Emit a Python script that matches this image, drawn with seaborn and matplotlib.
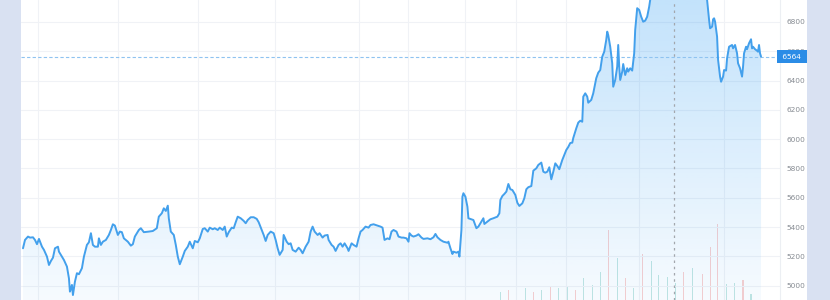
import numpy as np
import pandas as pd
import matplotlib
matplotlib.use("Agg")
import matplotlib.pyplot as plt
from matplotlib.patches import Rectangle
import seaborn as sns

# ---------------- data ----------------
day = [2, 4, 7, 9, 12, 14, 16, 18, 21, 23, 26, 28, 30, 32, 34, 37, 38, 41, 43, 46, 48, 49, 51, 52, 54, 56, 58, 61, 63,
       66, 68, 70, 72, 74, 77, 78, 80, 82, 85, 88, 90, 92, 94, 97, 99, 101, 103, 107, 110, 112, 114, 118, 120, 123, 128, 132,
       136, 138, 141, 143, 145, 147, 148, 150, 153, 155, 157, 159, 162, 164, 167, 169, 172, 174, 177, 179, 182, 184, 187,
       189, 192, 194, 197, 199, 202, 204, 206, 208, 211, 213, 215, 217, 220, 223, 225, 227, 230, 233, 236, 238, 241, 243,
       245, 247, 250, 253, 255, 257, 259, 262, 263, 266, 268,
       270, 272, 275, 278, 280, 282, 285, 288, 290, 292, 294, 297, 299, 302, 304, 307, 308, 311, 313, 315, 318, 320, 322,
       324, 327, 328, 331, 333, 336, 338, 340, 342, 345, 348, 350, 353, 357, 360, 362, 364, 367, 369, 371, 373, 376, 378,
       381, 383, 386, 388, 389, 391, 393, 396, 398, 401, 403,
       407, 410, 413, 415, 417, 420, 423, 427, 428, 430, 432, 433, 436, 438, 439, 441, 442, 443, 445, 447, 448, 451, 453,
       456, 458, 461, 463, 464, 467, 470, 473, 477, 479, 480, 482, 484, 486, 488, 490, 492, 493, 495, 497, 499, 502, 504,
       506, 508, 511, 513, 516, 518, 521, 523, 525, 527, 529, 531, 533, 535, 537, 539, 542, 544, 546, 548, 550, 552, 553,
       556, 558, 560, 562, 563, 565, 567, 568, 571, 573, 576, 578, 580, 582, 584, 586, 587, 588, 590, 592, 593, 595, 597,
       598, 599, 600, 602, 603, 605, 607, 608, 610, 612, 614, 615, 617, 619, 621, 623, 625, 627, 629, 630,
       635, 640, 645, 650, 655, 660, 665, 670, 675, 680, 685,
       687, 688, 689, 690, 692, 693, 694, 695, 697, 698, 700, 701, 703, 704, 706, 707, 709, 712, 713, 715, 717, 718, 720,
       722, 723, 724, 726, 727, 729, 731, 732, 733, 735, 737, 738, 739, 740, 741]

price = [5255, 5312, 5335, 5328, 5330, 5312, 5283, 5319, 5266, 5244, 5198, 5141, 5169, 5191, 5255, 5266, 5232, 5198, 5175,
         5130, 5050, 4959, 5005, 4936, 5027, 5085, 5078, 5119, 5198, 5278, 5296, 5358, 5278, 5266, 5266, 5323, 5278, 5300,
         5312, 5346, 5380, 5419, 5410, 5346, 5369, 5365, 5323, 5300, 5273, 5283, 5335, 5380, 5392, 5365, 5369, 5373,
         5392, 5471, 5494, 5528, 5510, 5546, 5460, 5369, 5346, 5278, 5198, 5146, 5198, 5237, 5266, 5300, 5255, 5305, 5296,
         5323, 5387, 5392, 5369, 5396, 5385, 5392, 5380, 5396, 5380, 5403, 5335, 5365, 5396, 5392, 5433, 5471, 5460, 5442,
         5426, 5448, 5467, 5467, 5456, 5433, 5380, 5346, 5305, 5346, 5369, 5358, 5312, 5255, 5210, 5244, 5346, 5300, 5283,
         5289, 5244, 5232, 5259, 5244, 5221, 5266, 5300, 5369, 5403, 5369, 5346, 5358, 5328, 5342, 5346, 5312, 5278, 5266,
         5237, 5278, 5289, 5266, 5289, 5255, 5237, 5289, 5278, 5266, 5323, 5369, 5380, 5403, 5396, 5414, 5419, 5410, 5403,
         5396, 5312, 5323, 5317, 5369, 5380, 5369, 5335, 5328, 5328, 5323, 5300, 5358, 5342, 5335, 5342, 5351, 5328, 5319,
         5323, 5317, 5330, 5353, 5330, 5312, 5300, 5293, 5300, 5255, 5216, 5232, 5225, 5232, 5198, 5380, 5607, 5631, 5607,
         5539, 5460, 5453, 5448, 5392, 5403, 5437, 5460, 5421, 5437, 5453, 5460, 5471, 5494, 5585, 5612, 5626, 5642, 5694,
         5658, 5653, 5642, 5619, 5566, 5544, 5562, 5597, 5658, 5672, 5680, 5785, 5801, 5824, 5840, 5778, 5771, 5778, 5808,
         5726, 5778, 5835, 5817, 5795, 5858, 5892, 5926, 5947, 5974, 5976, 6008, 6074, 6113, 6126, 6119, 6290, 6313, 6290,
         6249, 6268, 6313, 6416, 6454, 6472, 6563, 6597, 6677, 6734, 6711, 6631, 6518, 6358, 6404, 6495, 6643, 6495, 6404,
         6461, 6513, 6438, 6484, 6461, 6484, 6468, 6586, 6745, 6894, 6882, 6836, 6802, 6809, 6836, 6904, 6950,
         7020, 7080, 7120, 7160, 7190, 7170, 7140, 7110, 7080, 7040, 6990,
         6950, 6882, 6814, 6757, 6768, 6818, 6825, 6802, 6700, 6541, 6427, 6392, 6427, 6472, 6468, 6552, 6631, 6643, 6620,
         6643, 6586, 6518, 6484, 6427, 6495, 6586, 6631, 6614, 6655, 6682, 6620, 6631, 6614, 6604, 6597, 6643, 6586, 6564]

vol_day = [480, 488, 496, 505, 513, 521, 530, 538, 547, 555, 563, 572, 580, 588, 597, 605, 613, 622, 631, 638, 647,
           655, 663, 672, 682, 690, 697, 706, 714, 723, 731]
vol = [160, 200, 120, 240, 160, 200, 280, 240, 280, 200, 440, 300, 560, 1400, 840, 440, 240, 920, 780, 500, 460,
       340, 560, 640, 520, 1060, 1520, 320, 340, 400, 120]
vol_dir = ["up", "down", "up", "up", "down", "up", "down", "up", "up", "down", "up", "up", "up", "down", "up", "down",
           "up", "down", "up", "up", "up", "up", "down", "up", "down", "down", "down", "up", "up", "down", "up"]

y_ticks = [5000, 5200, 5400, 5600, 5800, 6000, 6200, 6400, 6600, 6800]
last_price = 6564
cross_day = 654
grid_days = [17, 97, 177, 254, 338, 388, 445, 496, 546, 619, 704]

# ---------------- figure ----------------
sns.set_theme(style="white")
plt.rcParams["font.family"] = ["DejaVu Sans"]

W, H = 830, 300
fig = plt.figure(figsize=(W / 100, H / 100), dpi=100)
fig.patch.set_facecolor("white")

band = "#d9e1f2"
fig.add_artist(Rectangle((0, 0), 21 / W, 1, transform=fig.transFigure, fc=band, ec="none", zorder=0))
fig.add_artist(Rectangle((807 / W, 0), 23 / W, 1, transform=fig.transFigure, fc=band, ec="none", zorder=0))

ax = fig.add_axes([21 / W, 0, 759 / W, 1])
ax2 = ax.twinx()
ax.set_zorder(ax2.get_zorder() + 1)
ax.patch.set_visible(False)

xmin, xmax = 0, 760
ymin, ymax = 4902, 6950

# volume bars (faint)
vdf = pd.DataFrame({"day": vol_day, "vol": vol, "dir": vol_dir})
for d, c in [("up", "#26a69a"), ("down", "#ef5350")]:
    sub = vdf[vdf["dir"] == d]
    ax2.bar(sub["day"], sub["vol"], width=1.1, color=c, alpha=0.28, linewidth=0)
ax2.set_ylim(0, 6000)
ax2.set_xlim(xmin, xmax)
ax2.axis("off")

# gradient area fill
line_color = "#43a0ec"
poly = ax.fill_between(day, price, ymin - 100, color="none", linewidth=0)
n = 256
grad = np.zeros((n, 1, 4))
grad[:, 0, 0] = 33 / 255
grad[:, 0, 1] = 150 / 255
grad[:, 0, 2] = 243 / 255
grad[:, 0, 3] = np.linspace(0.04, 0.27, n)
im = ax.imshow(grad, extent=[xmin, xmax, ymin, ymax], origin="lower", aspect="auto", zorder=1,
               interpolation="bilinear")
im.set_clip_path(poly.get_paths()[0], transform=ax.transData)

# line
df = pd.DataFrame({"day": day, "price": price})
sns.lineplot(data=df, x="day", y="price", ax=ax, color=line_color, linewidth=1.4,
             estimator=None, sort=False, zorder=3)

# grid
ax.set_xticks(grid_days)
ax.set_yticks(y_ticks)
ax.grid(True, color="#f0f2f6", linewidth=0.8, zorder=0)
ax.set_axisbelow(True)

# last price line and crosshair
ax.axhline(last_price, color="#8fc3f0", linewidth=0.8, dashes=(3, 2), zorder=2)
ax.axvline(cross_day, color="#a3a7ad", linewidth=0.9, dashes=(2, 3), zorder=2)

ax.set_xlim(xmin, xmax)
ax.set_ylim(ymin, ymax)
ax.set_xlabel("")
ax.set_ylabel("")
ax.tick_params(axis="x", length=0, labelbottom=False)
ax.yaxis.tick_right()
ax.tick_params(axis="y", length=0, pad=5, labelsize=5.3, labelcolor="#868b92")
for s in ["top", "left", "bottom"]:
    ax.spines[s].set_visible(False)
ax.spines["right"].set_color("#eceff3")
ax.spines["right"].set_linewidth(0.8)

ax.text(1.0, last_price, " 6564 ", transform=ax.get_yaxis_transform(), ha="left", va="center",
        fontsize=5.3, color="white", zorder=5, clip_on=False,
        bbox=dict(boxstyle="square,pad=0.45", fc="#2b8ce6", ec="none"))

fig.savefig("out.png", dpi=100, facecolor=fig.get_facecolor())
